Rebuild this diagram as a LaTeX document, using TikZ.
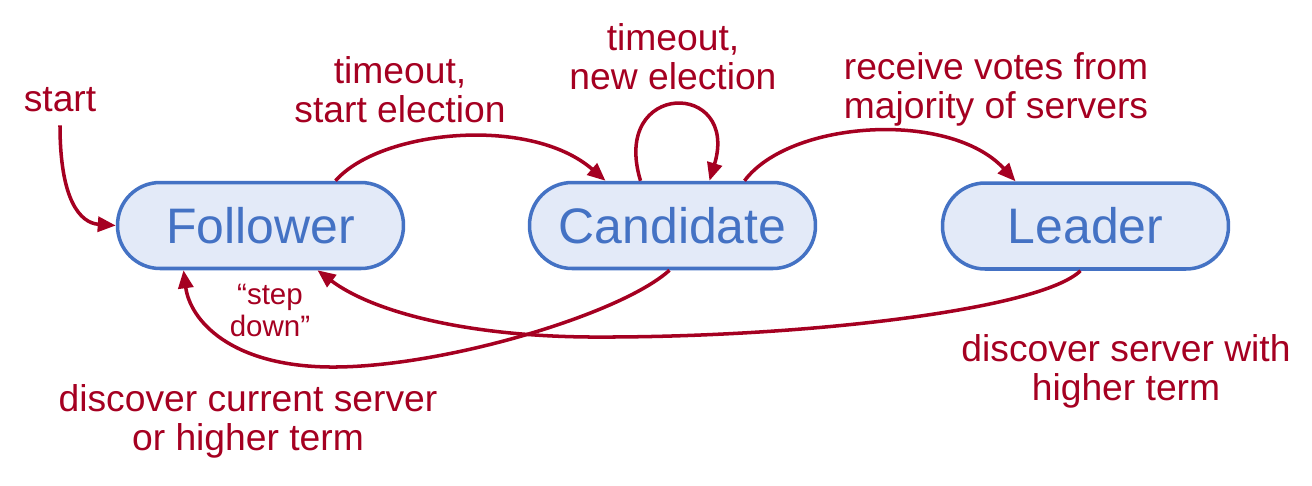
\documentclass[tikz,border=0pt]{standalone}
\usepackage{fontspec}
\setmainfont{Liberation Sans}
\usetikzlibrary{arrows.meta,calc}
\definecolor{stateblue}{HTML}{4472C4}
\definecolor{statefill}{HTML}{E3EAF8}
\definecolor{edgered}{HTML}{A50021}
\tikzset{
  statebox/.style={draw=stateblue, fill=statefill, text=stateblue, line width=2pt,
    rounded corners=0.85cm, minimum width=5.72cm, minimum height=1.72cm, inner sep=0pt,
    font=\fontsize{28.4}{30}\selectfont},
  lbl/.style={text=edgered, align=center, font=\fontsize{21.2}{22.3}\selectfont},
  smalllbl/.style={text=edgered, align=center, font=\fontsize{16.8}{18.2}\selectfont},
  trans/.style={draw=edgered, line width=2pt, -{Triangle[length=0.36cm,width=0.3cm]}}
}
\begin{document}
\begin{tikzpicture}[x=0.02cm,y=-0.02cm]
            \useasboundingbox (0,0) rectangle (1312,485);
            \node[statebox] (fol)  at (260.5,225.5) {Follower};
            \node[statebox] (cand) at (672.5,225.5) {Candidate};
            \node[statebox] (lead) at (1085.5,226)  {Leader};
            \node[lbl] (start)      at (60,100)   {start};
            \node[lbl] (lblelect)   at (400,90)   {timeout,\\start election};
            \node[lbl] (lblnew)     at (673,57)   {timeout,\\new election};
            \node[lbl] (lblvotes)   at (996,89)   {receive votes from\\majority of servers};
            \node[smalllbl] (lblstep) at (270,310) {“step\\down”};
            \node[lbl] (lblcurrent) at (248,421)  {discover current server\\or higher term};
            \node[lbl] (lblhigher)  at (1126,371) {discover server with\\higher term};
            \draw[trans] ([yshift=-0.14cm]start.south) .. controls (60,200) and (80,223) .. (fol.west);
            \draw[trans] ($(fol.north)+(75,0)$) .. controls (380,130) and (530,115) .. ($(cand.north)+(-67,0)$);
            \draw[trans] ($(cand.north)+(-32,0)$) .. controls (610,80) and (740,80) .. ($(cand.north)+(37,0)$);
            \draw[trans] ($(cand.north)+(72,0)$) .. controls (790,120) and (950,110) .. ($(lead.north)+(-70,0)$);
            \draw[trans] ($(cand.south)+(-3,0)$) .. controls (620,315) and (440,368) .. (330,367)
                         .. controls (230,366) and (190,320) .. ($(fol.south)+(-77,0)$);
            \draw[trans] ($(lead.south)+(-5,0)$) .. controls (1040,310) and (800,338) .. (590,337)
                         .. controls (460,336) and (370,310) .. ($(fol.south)+(57,0)$);
        \end{tikzpicture}
\end{document}
